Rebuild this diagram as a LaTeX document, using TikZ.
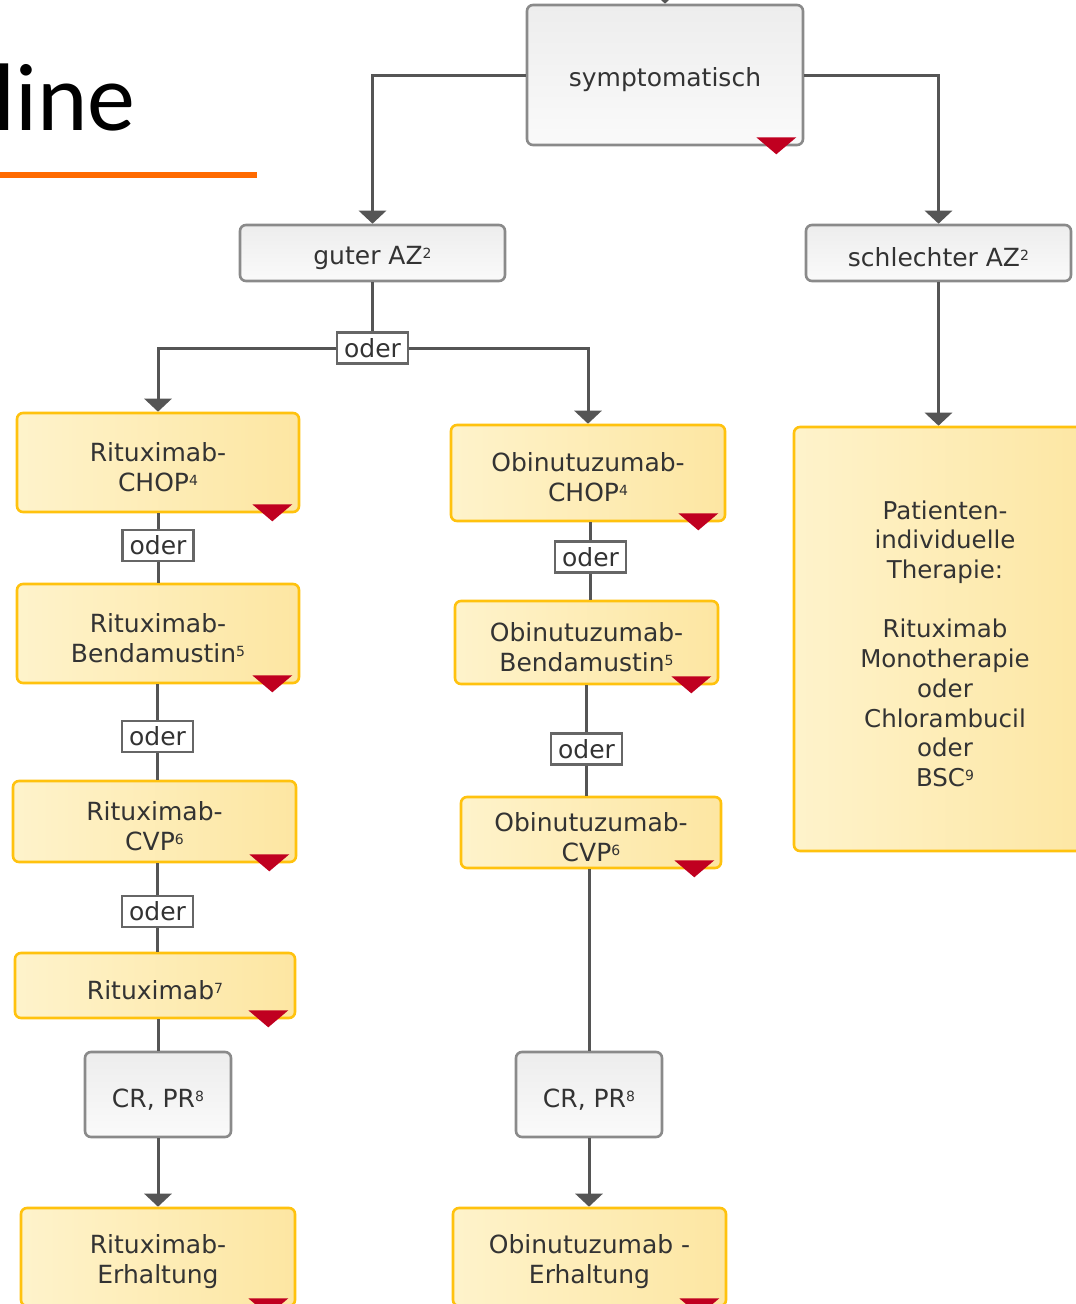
\documentclass[tikz,border=0pt]{standalone}
\usepackage{fontspec}
\setmainfont{DejaVu Sans}
\newfontfamily\titlefont{Carlito}
\usetikzlibrary{arrows.meta}

\definecolor{linegray}{HTML}{555555}
\definecolor{boxgray}{HTML}{8A8A8A}
\definecolor{graylight}{HTML}{EDEDED}
\definecolor{graywhite}{HTML}{FAFAFA}
\definecolor{ylight}{HTML}{FEF3CB}
\definecolor{ydark}{HTML}{FDE6A2}
\definecolor{yborder}{HTML}{FFC20E}
\definecolor{markred}{HTML}{C00020}
\definecolor{txt}{HTML}{333333}
\definecolor{accent}{HTML}{FF6A00}

\newcommand\supnum[1]{\raisebox{6pt}{\fontsize{14}{14}\selectfont #1}}
% invisible strut that lowers the text block a little inside its box
\newcommand\lowr{\rule{0pt}{28pt}}
% red marker in the lower right corner of a box
\newcommand\marker[1]{\fill[markred] ([shift={(-48,-9)}]#1.south east) -- ++(40,0) -- ++(-20,17) -- cycle;}

\tikzset{
  base/.style={rounded corners=6pt, align=center, text=txt, inner sep=2pt,
    font=\fontsize{25}{30}\selectfont},
  graybox/.style={base, draw=boxgray, line width=2.6pt,
    top color=graylight, bottom color=graywhite},
  yellowbox/.style={base, draw=yborder, line width=2.6pt,
    left color=ylight, right color=ydark},
  orlabel/.style={draw=linegray!90, line width=2.6pt, fill=white, text=txt,
    inner sep=1pt, minimum width=71pt, minimum height=31pt,
    font=\fontsize{25}{30}\selectfont},
  conn/.style={draw=linegray, line width=3pt},
  arr/.style={conn, -{Triangle[width=27pt,length=13pt]}},
}

\begin{document}
\begin{tikzpicture}[x=1pt,y=-1pt]
\useasboundingbox (0,0) rectangle (1076,1304);

% heading fragment and rule
\node[anchor=base west, inner sep=0pt, font=\titlefont\fontsize{96}{100}\selectfont] (title) at (-7,130) {line};
\fill[accent] (0,172) rectangle (257,178);

% boxes
\node[graybox, minimum width=276pt, minimum height=140pt] (sym) at (665,75) {\lowr symptomatisch};
\node[graybox, minimum width=265pt, minimum height=56pt] (guter) at (372.5,253) {\lowr guter AZ\supnum{2}};
\node[graybox, minimum width=265pt, minimum height=56pt] (schl) at (938.5,253) {\lowr schlechter AZ\supnum{2}};

\node[yellowbox, minimum width=282pt, minimum height=99pt] (rchop) at (158,462.5) {\lowr Rituximab-\\CHOP\supnum{4}};
\node[yellowbox, minimum width=282pt, minimum height=99pt] (rbend) at (158,633.5) {\lowr Rituximab-\\Bendamustin\supnum{5}};
\node[yellowbox, minimum width=283pt, minimum height=81pt] (rcvp) at (154.5,821.5) {\lowr Rituximab-\\CVP\supnum{6}};
\node[yellowbox, minimum width=280pt, minimum height=65pt] (rmono) at (155,985.5) {\lowr Rituximab\supnum{7}};
\node[graybox, minimum width=146pt, minimum height=85pt] (crl) at (158,1094.5) {\lowr CR, PR\supnum{8}};
\node[yellowbox, minimum width=274pt, minimum height=98pt] (rerh) at (158,1257) {\lowr Rituximab-\\Erhaltung};

\node[yellowbox, minimum width=274pt, minimum height=96pt] (ochop) at (588,473) {\lowr Obinutuzumab-\\CHOP\supnum{4}};
\node[yellowbox, minimum width=263pt, minimum height=83pt] (obend) at (586.5,642.5) {\lowr Obinutuzumab-\\Bendamustin\supnum{5}};
\node[yellowbox, minimum width=260pt, minimum height=71pt] (ocvp) at (591,832.5) {\lowr Obinutuzumab-\\CVP\supnum{6}};
\node[graybox, minimum width=146pt, minimum height=85pt] (crr) at (589,1094.5) {\lowr CR, PR\supnum{8}};
\node[yellowbox, minimum width=273pt, minimum height=98pt] (oerh) at (589.5,1257) {\lowr Obinutuzumab -\\Erhaltung};

\node[yellowbox, minimum width=302pt, minimum height=424pt, font=\fontsize{24.5}{29.7}\selectfont] (pat) at (945,639)
  {\lowr Patienten-\\individuelle\\Therapie:\\\mbox{}\\Rituximab\\Monotherapie\\oder\\Chlorambucil\\oder\\BSC\supnum{9}};

% "oder" labels on the connectors
\node[orlabel] (og) at (372.5,348) {oder};
\node[orlabel] (o1) at (158,545.5) {oder};
\node[orlabel] (o2) at (157.5,736.5) {oder};
\node[orlabel] (o3) at (157.5,911.5) {oder};
\node[orlabel] (o4) at (590.5,557) {oder};
\node[orlabel] (o5) at (586.5,749) {oder};

% incoming connector from above
\coordinate (top) at (665,-40);
\draw[arr] (top) -- (sym.north);

% connectors
\draw[arr] (sym.west) -| (guter.north);
\draw[arr] (sym.east) -| (schl.north);
\draw[conn] (guter.south) -- (og.north);
\draw[arr] (og.west) -| (rchop.north);
\draw[arr] (og.east) -| (ochop.north);
\draw[arr] (schl.south) -- (schl.south |- pat.north);

\draw[conn] (o1.north) -- (o1.north |- rchop.south);
\draw[conn] (o1.south) -- (o1.south |- rbend.north);
\draw[conn] (o2.north) -- (o2.north |- rbend.south);
\draw[conn] (o2.south) -- (o2.south |- rcvp.north);
\draw[conn] (o3.north) -- (o3.north |- rcvp.south);
\draw[conn] (o3.south) -- (o3.south |- rmono.north);
\draw[conn] (crl.north |- rmono.south) -- (crl.north);
\draw[arr] (crl.south) -- (crl.south |- rerh.north);

\draw[conn] (o4.north) -- (o4.north |- ochop.south);
\draw[conn] (o4.south) -- (o4.south |- obend.north);
\draw[conn] (o5.north) -- (o5.north |- obend.south);
\draw[conn] (o5.south) -- (o5.south |- ocvp.north);
\draw[conn] (crr.north |- ocvp.south) -- (crr.north);
\draw[arr] (crr.south) -- (crr.south |- oerh.north);

% corner markers
\marker{sym}
\marker{rchop}
\marker{rbend}
\marker{rcvp}
\marker{rmono}
\marker{rerh}
\marker{ochop}
\marker{obend}
\marker{ocvp}
\marker{oerh}
\end{tikzpicture}
\end{document}
